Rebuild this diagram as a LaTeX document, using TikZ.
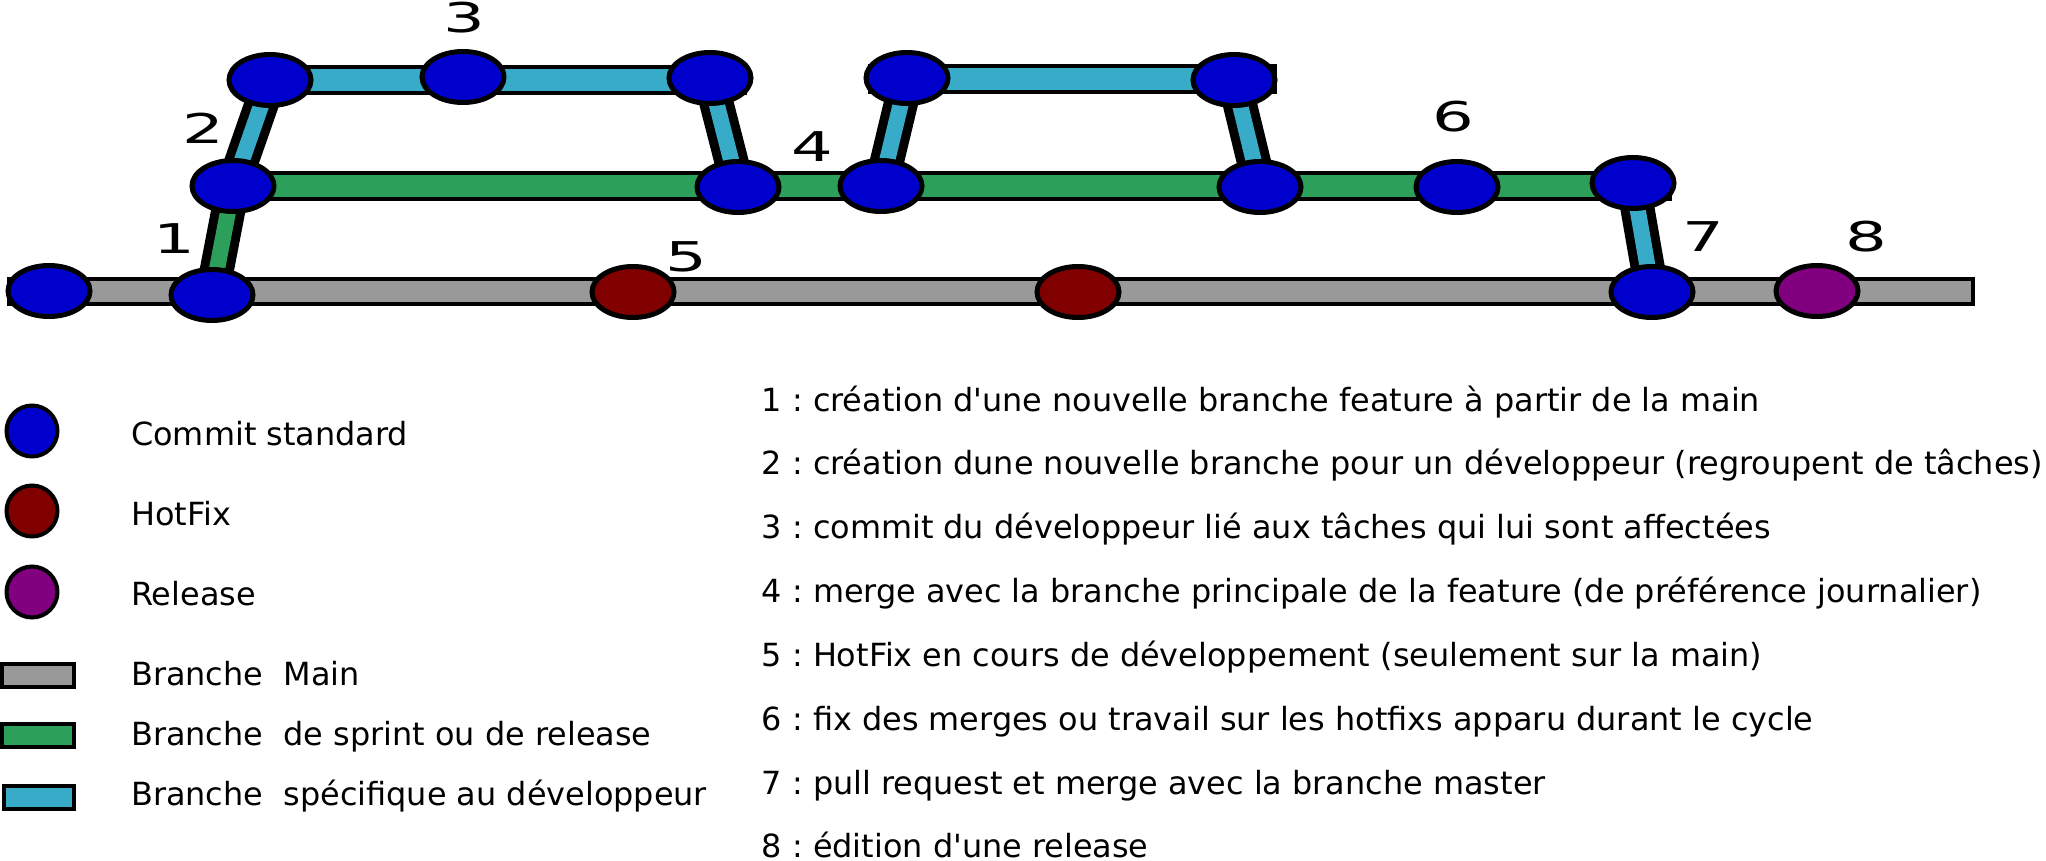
\documentclass[tikz,border=0pt]{standalone}
\usepackage{fontspec}
\setmainfont{DejaVu Sans}
\usetikzlibrary{shapes.geometric}
\pgfdeclarelayer{bg}
\pgfsetlayers{bg,main}
\definecolor{cblue}{HTML}{0000CC}
\definecolor{cred}{HTML}{800000}
\definecolor{cpurple}{HTML}{800080}
\definecolor{cgray}{HTML}{999999}
\definecolor{cgreen}{HTML}{2CA05A}
\definecolor{ccyan}{HTML}{37ABC8}
\frenchspacing
\tikzset{
  commit/.style={ellipse, draw=black, line width=5pt, minimum width=82pt, minimum height=51pt, inner sep=0pt},
  std/.style={commit, fill=cblue},
  hot/.style={commit, fill=cred},
  rel/.style={commit, fill=cpurple},
  lcircle/.style={ellipse, draw=black, line width=4pt, minimum width=51pt, minimum height=51pt, inner sep=0pt},
  lrect/.style={rectangle, draw=black, line width=4pt, minimum width=72pt, minimum height=23pt, inner sep=0pt},
  bar/.style={draw=black, line width=4pt},
  link/.style={line width=9pt, double distance=16pt},
  num/.style={font=\fontsize{41}{41}\selectfont, inner sep=0pt},
  txt/.style={font=\fontsize{31.9}{36}\selectfont\frenchspacing, anchor=base west, inner sep=0pt}
}
\begin{document}
\frenchspacing
\begin{tikzpicture}[x=1pt,y=-1pt]
\useasboundingbox (0,0) rectangle (2046,861);
% commits
\node[std] (m1) at (49,291) {};
\node[std] (m2) at (212,295) {};
\node[hot] (h1) at (633,292) {};
\node[hot] (h2) at (1078,292) {};
\node[std] (m3) at (1652,292) {};
\node[rel] (r1) at (1817,291) {};
\node[std] (g1) at (233,186) {};
\node[std] (g2) at (738,187) {};
\node[std] (g3) at (881,186) {};
\node[std] (g4) at (1260,187) {};
\node[std] (g5) at (1457,187) {};
\node[std] (g6) at (1633,183) {};
\node[std] (c1) at (270,80) {};
\node[std] (c2) at (463,77) {};
\node[std] (c3) at (710,78) {};
\node[std] (c4) at (907,78) {};
\node[std] (c5) at (1234,80) {};
\begin{pgfonlayer}{bg}
  \draw[bar, fill=cgray] (9,279) rectangle (1973,304);
  \draw[bar, fill=cgreen] (200,173) rectangle (1670,199);
  \draw[bar, fill=ccyan] (240,67) rectangle (745,93);
  \draw[bar, fill=ccyan] (870,66) rectangle (1275,92);
  \draw[link, double=cgreen] (m2.center) -- (g1.center);
  \draw[link, double=ccyan] (g1.center) -- (c1.center);
  \draw[link, double=ccyan] (c3.center) -- (g2.center);
  \draw[link, double=ccyan] (g3.center) -- (c4.center);
  \draw[link, double=ccyan] (c5.center) -- (g4.center);
  \draw[link, double=ccyan] (g6.center) -- (m3.center);
\end{pgfonlayer}
% step labels
\node[num] (n1) at (174,239) {\scalebox{1.6}[1]{1}};
\node[num] (n2) at (203,128) {\scalebox{1.6}[1]{2}};
\node[num] (n3) at (464,18) {\scalebox{1.6}[1]{3}};
\node[num] (n4) at (812,147) {\scalebox{1.6}[1]{4}};
\node[num] (n5) at (686,257) {\scalebox{1.6}[1]{5}};
\node[num] (n6) at (1453,117) {\scalebox{1.6}[1]{6}};
\node[num] (n7) at (1703,237) {\scalebox{1.6}[1]{7}};
\node[num] (n8) at (1866,237) {\scalebox{1.6}[1]{8}};
% legend
\node[lcircle, fill=cblue] (lc1) at (32,431) {};
\node[lcircle, fill=cred] (lc2) at (32,511) {};
\node[lcircle, fill=cpurple] (lc3) at (32,592) {};
\node[lrect, fill=cgray] (lr1) at (38,675.5) {};
\node[lrect, fill=cgreen] (lr2) at (38,735.5) {};
\node[lrect, fill=ccyan, minimum width=70pt] (lr3) at (39,797.5) {};
\node[txt] (t1) at (131,445.5) {Commit standard};
\node[txt] (t2) at (131,525.5) {HotFix};
\node[txt] (t3) at (131,605.5) {Release};
\node[txt] (t4) at (131,685) {Branche\ \ Main};
\node[txt] (t5) at (131,745) {Branche\ \ de sprint ou de release};
\node[txt] (t6) at (131,805) {Branche\ \ spécifique au développeur};
% explanations
\node[txt] (e1) at (761.5,411) {1 : création d\textquotesingle une nouvelle branche feature à partir de la main};
\node[txt] (e2) at (761.5,474.9) {2 : création dune nouvelle branche pour un développeur (regroupent de tâches)};
\node[txt] (e3) at (761.5,538.8) {3 : commit du développeur lié aux tâches qui lui sont affectées};
\node[txt] (e4) at (761.5,602.7) {4 : merge avec la branche principale de la feature (de préférence journalier)};
\node[txt] (e5) at (761.5,666.6) {5 : HotFix en cours de développement (seulement sur la main)};
\node[txt] (e6) at (761.5,730.5) {6 : fix des merges ou travail sur les hotfixs apparu durant le cycle};
\node[txt] (e7) at (761.5,794.4) {7 : pull request et merge avec la branche master};
\node[txt] (e8) at (761.5,857) {8 : édition d\textquotesingle une release};
\end{tikzpicture}
\end{document}
